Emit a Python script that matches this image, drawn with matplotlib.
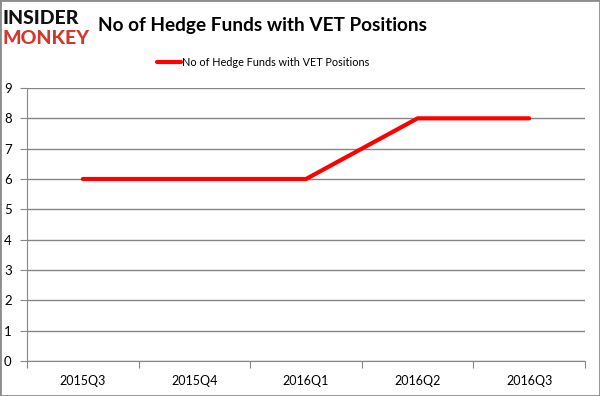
import matplotlib
matplotlib.use("Agg")
import matplotlib.pyplot as plt
from matplotlib.patches import Rectangle

quarters = ["2015Q3", "2015Q4", "2016Q1", "2016Q2", "2016Q3"]
hedge_funds = [6, 6, 6, 8, 8]
y_ticks = list(range(0, 10))

TITLE = "No of Hedge Funds with VET Positions"
GRID = "#868686"

plt.rcParams["font.family"] = ["Lato", "DejaVu Sans"]

fig = plt.figure(figsize=(6, 3.96), dpi=100)
ax = fig.add_axes([27 / 600, 35 / 396, 558 / 600, 273 / 396])

x = [i + 0.5 for i in range(len(quarters))]
ax.plot(x, hedge_funds, color="#ff0000", linewidth=3, solid_capstyle="round",
        zorder=3, label=TITLE)

ax.set_xlim(0, len(quarters))
ax.set_ylim(0, 9)
ax.set_yticks(y_ticks)
ax.set_xticks(range(len(quarters) + 1))
ax.set_xticklabels([])
ax.set_xticks(x, minor=True)
ax.set_xticklabels(quarters, minor=True)
ax.tick_params(axis="x", which="minor", length=0, pad=10, labelsize=9)
ax.tick_params(axis="x", which="major", length=5, color=GRID)
ax.tick_params(axis="y", length=5, color=GRID, labelsize=9.5, pad=6)
ax.yaxis.grid(True, color=GRID, linewidth=1)
ax.set_axisbelow(True)
for side in ["top", "right"]:
    ax.spines[side].set_visible(False)
for side in ["left", "bottom"]:
    ax.spines[side].set_color(GRID)

fig.text(98 / 600, 1 - 25 / 396, TITLE, fontsize=13.7, fontweight="bold",
         va="center", ha="left")
fig.text(2 / 600, 1 - 18 / 396, "INSIDER", fontsize=14, fontweight="black",
         va="center", ha="left", color="#111111")
fig.text(2 / 600, 1 - 39 / 396, "MONKEY", fontsize=14, fontweight="black",
         va="center", ha="left", color="#d0392b")

fig.legend(loc="center", bbox_to_anchor=(263 / 600, 1 - 62 / 396), frameon=False,
           fontsize=7.8, handlelength=2.2, handletextpad=0.1)

fig.add_artist(Rectangle((0, 0), 1, 1, transform=fig.transFigure, fill=False,
                         edgecolor="#8c8c8c", linewidth=2))

fig.savefig("out.png", dpi=100)
